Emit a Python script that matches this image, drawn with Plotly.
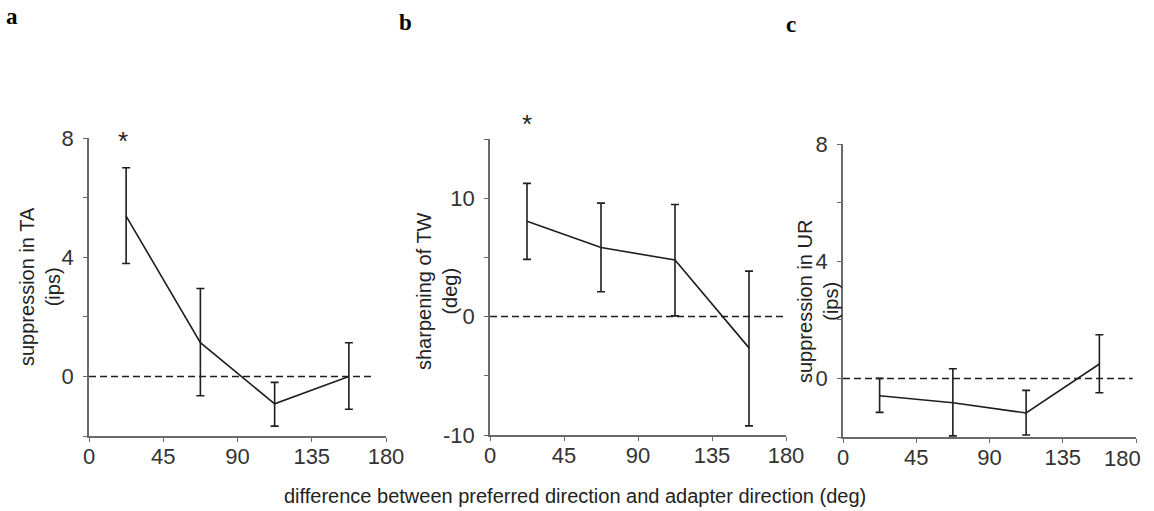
import plotly.graph_objects as go

W, H = 1154, 511

# ---- data ----
directions = [22.5, 67.5, 112.5, 157.5]

ta_mean = [5.38, 1.13, -0.92, 0.0]
ta_upper = [7.0, 2.95, -0.2, 1.13]
ta_lower = [3.79, -0.65, -1.67, -1.1]

tw_mean = [8.05, 5.83, 4.78, -2.64]
tw_upper = [11.25, 9.58, 9.47, 3.84]
tw_lower = [4.83, 2.1, 0.06, -9.23]

ur_mean = [-0.59, -0.83, -1.18, 0.49]
ur_upper = [0.0, 0.33, -0.41, 1.49]
ur_lower = [-1.16, -1.96, -1.93, -0.49]

x_ticks = [0, 45, 90, 135, 180]
x_ticktext = ["0", "45", "90", "135", "180"]
x_ticktext_c = ["0", "45", "90", "135", ""]   # last label drawn separately (shifted left)
last_tick_label = "180"
ips_ticks = [-2, 0, 2, 4, 6, 8]
ips_ticktext = ["", "0", "", "4", "", "8"]
deg_ticks = [-10, -5, 0, 5, 10, 15]
deg_ticktext = ["-10", "", "0", "", "10", ""]

ref_x_a = [0, 171]
ref_x_b = [0, 180]
ref_x_c = [0, 178]

star_a = (20.6, 7.95)
star_b = (22.3, 14.9)

panels = [
    dict(mean=ta_mean, up=ta_upper, lo=ta_lower, ref=ref_x_a, xtt=x_ticktext,
         px=(89, 386), py=(138, 436), yr=[-2, 8], yt=ips_ticks, ytt=ips_ticktext,
         title="suppression in TA<br>(ips)", tpos=(40, 287)),
    dict(mean=tw_mean, up=tw_upper, lo=tw_lower, ref=ref_x_b, xtt=x_ticktext,
         px=(490, 786), py=(139, 435), yr=[-10, 15], yt=deg_ticks, ytt=deg_ticktext,
         title="sharpening of TW<br>(deg)", tpos=(437, 291)),
    dict(mean=ur_mean, up=ur_upper, lo=ur_lower, ref=ref_x_c, xtt=x_ticktext_c,
         px=(843, 1136), py=(144, 437), yr=[-2, 8], yt=ips_ticks, ytt=ips_ticktext,
         title="suppression in UR<br>(ips)", tpos=(818, 302)),
]

fig = go.Figure()
axis_col = "#6a6a6a"
line_col = "#1e1e1e"
FONT = "Liberation Sans, Arial, sans-serif"
tick_font = dict(family=FONT, size=22, color="#333333")

annotations = []
for i, p in enumerate(panels):
    n = "" if i == 0 else str(i + 1)
    xa, ya = "x" + n, "y" + n
    fig.add_trace(go.Scatter(x=p["ref"], y=[0, 0], xaxis=xa, yaxis=ya, mode="lines",
                             line=dict(color=line_col, width=1.5, dash="7px,4px"),
                             hoverinfo="skip", showlegend=False))
    fig.add_trace(go.Scatter(
        x=directions, y=p["mean"], xaxis=xa, yaxis=ya, mode="lines",
        line=dict(color=line_col, width=1.6), showlegend=False,
        error_y=dict(type="data", symmetric=False,
                     array=[u - m for u, m in zip(p["up"], p["mean"])],
                     arrayminus=[m - l for m, l in zip(p["mean"], p["lo"])],
                     color=line_col, thickness=1.6, width=4)))
    fig.layout["xaxis" + n] = dict(
        domain=[p["px"][0] / W, p["px"][1] / W], anchor=ya, range=[0, 180],
        tickvals=x_ticks, ticktext=p["xtt"], ticks="outside", ticklen=4,
        ticklabelstandoff=-4,
        tickcolor=axis_col, showline=True, linecolor=axis_col, linewidth=1.5,
        showgrid=False, zeroline=False, tickfont=tick_font, automargin=False)
    fig.layout["yaxis" + n] = dict(
        domain=[1 - p["py"][1] / H, 1 - p["py"][0] / H], anchor=xa, range=p["yr"],
        tickvals=p["yt"], ticktext=p["ytt"], ticks="outside", ticklen=4,
        ticklabelstandoff=5,
        tickcolor=axis_col, showline=True, linecolor=axis_col, linewidth=1.5,
        showgrid=False, zeroline=False, tickfont=tick_font, automargin=False)
    annotations.append(dict(
        text=p["title"], x=p["tpos"][0] / W, y=1 - p["tpos"][1] / H,
        xref="paper", yref="paper", textangle=-90, showarrow=False,
        xanchor="center", yanchor="middle",
        font=dict(family=FONT, size=20, color="#222222")))

# last x tick label of panel c, pulled left to stay inside the figure
annotations.append(dict(text=last_tick_label, x=x_ticks[-1], xref="x3", xshift=-14,
                        y=1 - 458 / H, yref="paper", showarrow=False,
                        xanchor="center", yanchor="middle", font=tick_font))

for (sx, sy), xr, yr, ys in [(star_a, "x", "y", -2), (star_b, "x2", "y2", 16)]:
    annotations.append(dict(text="*", x=sx, y=sy, xref=xr, yref=yr, showarrow=False,
                            yshift=ys, yanchor="middle",
                            font=dict(family=FONT, size=26, color="#222222")))

for lbl, lx, ly in [("a", 12, 17), ("b", 405, 22), ("c", 791, 25)]:
    annotations.append(dict(text="<b>%s</b>" % lbl, x=lx / W, y=1 - ly / H, xref="paper",
                            yref="paper", showarrow=False, xanchor="center", yanchor="middle",
                            font=dict(family="Liberation Serif, Times New Roman, serif",
                                      size=23, color="black")))

annotations.append(dict(
    text="difference between preferred direction and adapter direction (deg)",
    x=575 / W, y=1 - 496 / H, xref="paper", yref="paper", showarrow=False,
    xanchor="center", yanchor="middle",
    font=dict(family=FONT, size=20, color="#222222")))

fig.update_layout(width=W, height=H,
                  margin=dict(l=0, r=0, t=0, b=0, pad=0, autoexpand=False),
                  paper_bgcolor="white", plot_bgcolor="white",
                  annotations=annotations, showlegend=False)

fig.write_html("out.html")
